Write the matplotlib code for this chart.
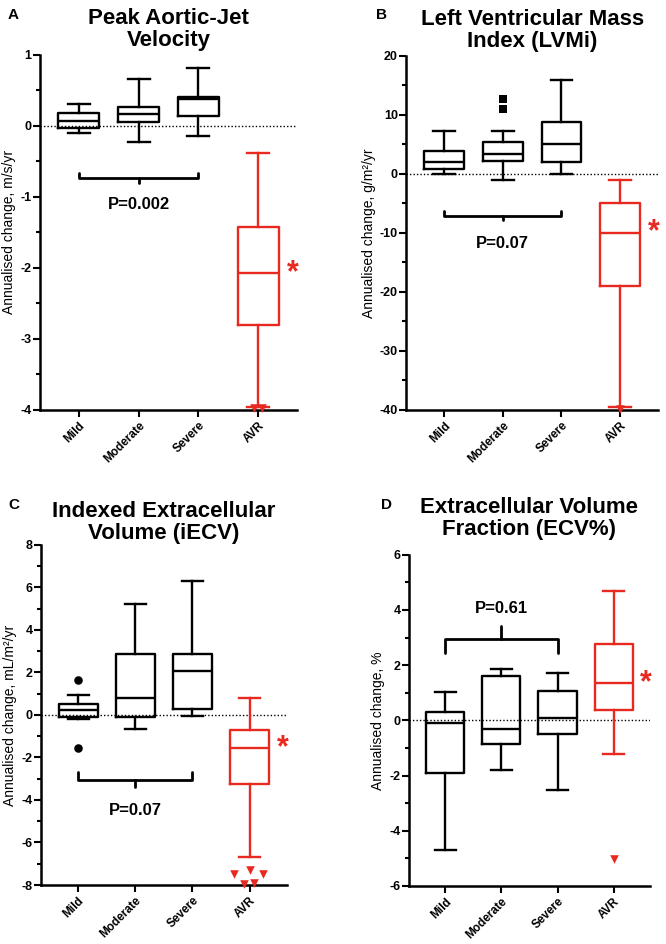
import numpy as np
import matplotlib
matplotlib.use('Agg')
import matplotlib.pyplot as plt
from matplotlib.ticker import MultipleLocator

plt.rcParams['font.family'] = ['Liberation Sans', 'DejaVu Sans']
plt.rcParams['axes.unicode_minus'] = False

categories = ['Mild', 'Moderate', 'Severe', 'AVR']

# A - peak aortic-jet velocity (m/s/yr)
a_lo = [-0.10, -0.23, -0.14, -3.96]
a_q1 = [-0.03, 0.05, 0.14, -2.80]
a_med = [0.06, 0.16, 0.37, -2.08]
a_q3 = [0.18, 0.26, 0.40, -1.42]
a_hi = [0.30, 0.66, 0.81, -0.39]
a_out = [[], [], [], [-3.98, -3.98]]

# B - LVMi (g/m2/yr)
b_lo = [0.0, -1.0, 0.0, -39.5]
b_q1 = [0.85, 2.2, 1.9, -19.1]
b_med = [2.0, 3.3, 5.0, -10.0]
b_q3 = [3.8, 5.3, 8.8, -5.0]
b_hi = [7.2, 7.2, 15.8, -1.0]
b_out = [[], [12.7, 11.0], [], [-39.8]]

# C - iECV (mL/m2/yr)
c_lo = [-0.19, -0.65, -0.03, -6.66]
c_q1 = [-0.08, -0.11, 0.26, -3.26]
c_med = [0.23, 0.79, 2.05, -1.55]
c_q3 = [0.51, 2.87, 2.87, -0.70]
c_hi = [0.95, 5.2, 6.32, 0.82]
c_out = [[1.65, -1.54], [], [], [-7.5, -7.3, -7.5, -7.95, -7.9]]

# D - ECV% (%)
d_lo = [-4.68, -1.8, -2.53, -1.23]
d_q1 = [-1.91, -0.84, -0.48, 0.36]
d_med = [-0.08, -0.3, 0.1, 1.35]
d_q3 = [0.30, 1.6, 1.05, 2.78]
d_hi = [1.02, 1.85, 1.73, 4.7]
d_out = [[], [], [], [-5.04]]

p_values = ['P=0.002', 'P=0.07', 'P=0.07', 'P=0.61']

RED = '#e8291f'
# horizontal spread of outliers (GraphPad style)
spread = {1: [0.0], 2: [-0.07, 0.07], 5: [-0.28, 0.0, 0.24, -0.09, 0.07]}


def draw_panel(ax, lo, q1, med, q3, hi, out, title, ylabel, ylim, major, minor,
               black_marker, brk, ptxt, pty, tpad=6):
    pos = np.arange(1, 5)
    stats = []
    for i in range(4):
        stats.append(dict(med=med[i], q1=q1[i], q3=q3[i], whislo=lo[i], whishi=hi[i], fliers=[]))
    ax.axhline(0, color='black', ls=(0, (1, 1.5)), lw=1, zorder=1)
    for i in range(4):
        col = RED if i == 3 else 'black'
        ax.bxp([stats[i]], positions=[pos[i]], widths=0.68, showfliers=False,
               capwidths=0.37, patch_artist=False,
               boxprops=dict(color=col, lw=1.7),
               whiskerprops=dict(color=col, lw=1.7),
               capprops=dict(color=col, lw=1.7),
               medianprops=dict(color=col, lw=1.7), manage_ticks=False)
        if out[i]:
            n = len(out[i])
            dx = spread.get(n, [0.0] * n) if i == 3 else [0.0] * n
            mk = 'v' if i == 3 else black_marker
            ax.scatter(pos[i] + np.array(dx), out[i], marker=mk, color=col,
                       s=38, zorder=5, clip_on=False, linewidths=0)
    # asterisk next to AVR box
    ax.text(4.58, med[3], '*', color=RED, fontsize=22, fontweight='bold',
            ha='center', va='center')
    # bracket over Mild-Severe
    y_end, y_mid, y_tip = brk
    ax.plot([1, 1, 3, 3], [y_end, y_mid, y_mid, y_end], color='black', lw=2,
            solid_joinstyle='round', solid_capstyle='round')
    ax.plot([2, 2], [y_mid, y_tip], color='black', lw=2, solid_capstyle='round')
    ax.text(2, pty, ptxt, ha='center', va='center', fontsize=12, fontweight='bold')

    ax.set_xlim(0.35, 4.65)
    ax.set_ylim(*ylim)
    ax.yaxis.set_major_locator(MultipleLocator(major))
    ax.yaxis.set_minor_locator(MultipleLocator(minor))
    ax.set_xticks(pos)
    ax.set_xticklabels(categories, rotation=45, ha='right', rotation_mode='anchor',
                       fontsize=8.5, fontweight='bold')
    for lab in ax.get_yticklabels():
        lab.set_fontweight('bold')
    ax.tick_params(axis='y', labelsize=9, width=1.5, length=5, pad=1)
    ax.tick_params(axis='y', which='minor', width=1.5, length=3)
    ax.tick_params(axis='x', width=1.5, length=5, pad=2)
    for s in ['top', 'right']:
        ax.spines[s].set_visible(False)
    for s in ['left', 'bottom']:
        ax.spines[s].set_linewidth(1.8)
    ax.set_ylabel(ylabel, fontsize=10, labelpad=3)
    ax.set_title(title, fontsize=16, fontweight='bold', pad=tpad, linespacing=1.1)


fig = plt.figure(figsize=(6.66, 9.44), dpi=100)
axA = fig.add_axes([0.060, 0.566, 0.386, 0.376])
axB = fig.add_axes([0.610, 0.566, 0.378, 0.375])
axC = fig.add_axes([0.0616, 0.0625, 0.369, 0.3602])
axD = fig.add_axes([0.614, 0.0615, 0.362, 0.3509])

draw_panel(axA, a_lo, a_q1, a_med, a_q3, a_hi, a_out,
           'Peak Aortic-Jet\nVelocity', 'Annualised change, m/s/yr',
           (-4, 1), 1, 0.5, 'o', (-0.67, -0.73, -0.80), p_values[0], -1.11)
draw_panel(axB, b_lo, b_q1, b_med, b_q3, b_hi, b_out,
           'Left Ventricular Mass\nIndex (LVMi)', 'Annualised change, g/m\u00b2/yr',
           (-40, 20), 10, 5, 's', (-6.3, -7.1, -7.9), p_values[1], -11.9)
draw_panel(axC, c_lo, c_q1, c_med, c_q3, c_hi, c_out,
           'Indexed Extracellular\nVolume (iECV)', 'Annualised change, mL/m\u00b2/yr',
           (-8, 8), 2, 1, 'o', (-2.7, -3.06, -3.37), p_values[2], -4.49, tpad=4)
draw_panel(axD, d_lo, d_q1, d_med, d_q3, d_hi, d_out,
           'Extracellular Volume\nFraction (ECV%)', 'Annualised change, %',
           (-6, 6), 2, 1, 'o', (2.45, 2.93, 3.4), p_values[3], 4.06, tpad=14)

for lbl, x, y in [('A', 0.012, 0.984), ('B', 0.565, 0.984), ('C', 0.012, 0.465), ('D', 0.572, 0.465)]:
    fig.text(x, y, lbl, fontsize=11, fontweight='bold', va='center')

fig.savefig('out.png', dpi=100)
